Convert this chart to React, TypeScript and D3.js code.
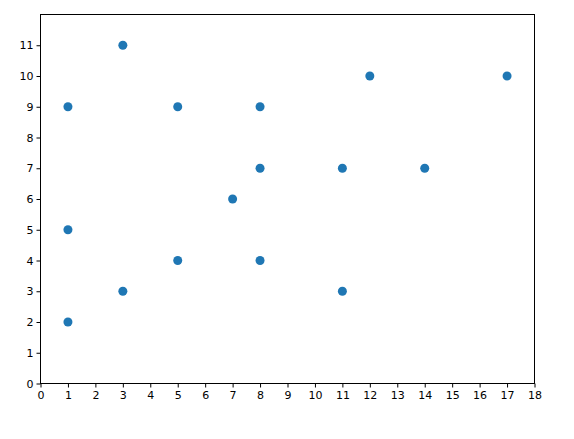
import React, { useEffect, useRef } from 'react';
import * as d3 from 'd3';

// Scatter points
const xValues = [1, 1, 1, 3, 3, 5, 5, 7, 8, 8, 8, 11, 11, 12, 14, 17];
const yValues = [9, 5, 2, 11, 3, 9, 4, 6, 9, 7, 4, 7, 3, 10, 7, 10];
const xTicks = d3.range(0, 19);
const yTicks = d3.range(0, 12);

const App = () => {
  const ref = useRef<SVGSVGElement>(null);

  useEffect(() => {
    const svg = d3.select(ref.current);
    svg.selectAll('*').remove();

    const width = 574;
    const height = 439;
    const margin = { top: 14.5, right: 39.5, bottom: 55.5, left: 40.5 };
    const innerWidth = width - margin.left - margin.right;
    const innerHeight = height - margin.top - margin.bottom;

    const x = d3.scaleLinear().domain([0, 18]).range([0, innerWidth]);
    const y = d3.scaleLinear().domain([0, 12]).range([innerHeight, 0]);

    const g = svg.append('g')
      .attr('transform', `translate(${margin.left},${margin.top})`);

    // Points
    g.selectAll('.dot')
      .data(xValues.map((v, i) => ({ x: v, y: yValues[i] })))
      .enter()
      .append('circle')
      .attr('class', 'dot')
      .attr('cx', d => x(d.x))
      .attr('cy', d => y(d.y))
      .attr('r', 4.5)
      .attr('fill', '#1f77b4');

    // Axes
    const xAxis = g.append('g')
      .attr('transform', `translate(0,${innerHeight})`)
      .call(d3.axisBottom(x).tickValues(xTicks).tickFormat(d3.format('d')).tickSize(4).tickSizeOuter(0));
    const yAxis = g.append('g')
      .call(d3.axisLeft(y).tickValues(yTicks).tickFormat(d3.format('d')).tickSize(4).tickSizeOuter(0));

    [xAxis, yAxis].forEach(a => {
      a.select('.domain').remove();
      a.selectAll('line').attr('stroke', '#000').attr('stroke-width', 1);
      a.selectAll('text')
        .attr('font-family', 'DejaVu Sans')
        .attr('font-size', '11px')
        .attr('fill', '#000');
    });
    xAxis.selectAll('text').attr('dy', '0.75em').attr('y', 7);
    yAxis.selectAll('text').attr('x', -7);

    // Frame
    g.append('rect')
      .attr('width', innerWidth)
      .attr('height', innerHeight)
      .attr('fill', 'none')
      .attr('stroke', '#000')
      .attr('stroke-width', 1);
  }, []);

  return <svg ref={ref} width={574} height={439} style={{ display: 'block', margin: -8 }} />;
};

export default App;
